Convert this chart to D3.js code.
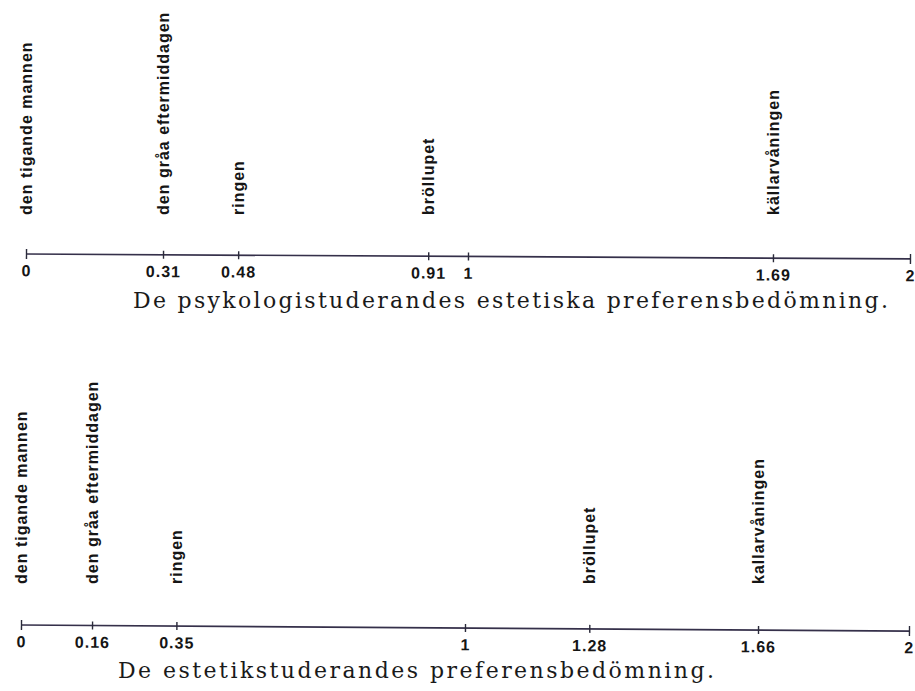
<!DOCTYPE html>
<head>
    <meta charset="utf-8">
    <script src="https://d3js.org/d3.v7.min.js"></script>
    <style>
        body { margin: 0; background: #fff; }
    </style>
</head>

<body>
    <div id="scales"></div>
</body>

<script>
    // works (same order on both scales)
    const psykLabels = ["den tigande mannen", "den gråa eftermiddagen", "ringen", "bröllupet", "källarvåningen"];
    const estetLabels = ["den tigande mannen", "den gråa eftermiddagen", "ringen", "bröllupet", "kallarvåningen"];

    // preference values
    const psykValues = [0, 0.31, 0.48, 0.91, 1.69];
    const estetValues = [0, 0.16, 0.35, 1.28, 1.66];

    // tick values on each scale
    const psykTicks = [0, 0.31, 0.48, 0.91, 1, 1.69, 2];
    const estetTicks = [0, 0.16, 0.35, 1, 1.28, 1.66, 2];

    const psykTitle = "De psykologistuderandes estetiska preferensbedömning.";
    const estetTitle = "De estetikstuderandes preferensbedömning.";

    const width = 915, height = 691;

    const svg = d3.select("#scales")
        .append("svg")
        .attr("width", width)
        .attr("height", height);

    const panels = [
        {labels: psykLabels, values: psykValues, ticks: psykTicks, title: psykTitle,
         x0: 26, x1: 910, axisY: 254, tilt: 0.32, labelY: 215, titleX: 133, titleW: 755, titleY: 308},
        {labels: estetLabels, values: estetValues, ticks: estetTicks, title: estetTitle,
         x0: 21, x1: 909, axisY: 625, tilt: 0.39, labelY: 584, titleX: 118, titleW: 596, titleY: 678}
    ];

    panels.forEach(p => {
        const x = d3.scaleLinear()
            .domain([0, 2])
            .range([p.x0, p.x1]);

        // Axis (the scan is a little tilted)
        const axis = svg.append("g")
            .attr("transform", `translate(0,${p.axisY}) rotate(${p.tilt},${p.x0},0)`)
            .call(d3.axisBottom(x)
                .tickValues(p.ticks)
                .tickFormat(d => String(d))
                .tickSize(4)
                .tickPadding(7));

        axis.select(".domain")
            .attr("d", `M${p.x0},0H${p.x1}`)
            .attr("stroke", "#35304a")
            .attr("stroke-width", 1.7);

        axis.selectAll(".tick line")
            .attr("y1", d => (d === 0 || d === 2) ? -5 : -4)
            .attr("y2", d => (d === 0 || d === 2) ? 5 : 4)
            .attr("stroke", "#2a2a3a")
            .attr("stroke-width", 1.4);

        axis.selectAll(".tick text")
            .attr("fill", "#151515")
            .style("font-family", "'Liberation Sans', Arial, sans-serif")
            .style("font-weight", "bold")
            .style("font-size", "16px")
            .style("letter-spacing", "1px");

        // Vertical labels
        svg.append("g")
            .selectAll("text")
            .data(p.values)
            .join("text")
            .attr("transform", d => `translate(${x(d)},${p.labelY}) rotate(-90)`)
            .attr("dy", "0.35em")
            .attr("text-anchor", "start")
            .style("font-family", "'Liberation Sans', Arial, sans-serif")
            .style("font-weight", "bold")
            .style("font-size", "16px")
            .style("letter-spacing", "1px")
            .attr("fill", "#151515")
            .text((d, i) => p.labels[i]);

        // Title
        svg.append("text")
            .attr("x", p.titleX)
            .attr("y", p.titleY)
            .attr("textLength", p.titleW)
            .attr("lengthAdjust", "spacing")
            .style("font-family", "'DejaVu Serif', serif")
            .style("font-size", "22px")
            .attr("fill", "#1a1a1a")
            .text(p.title);
    });
</script>
</html>
